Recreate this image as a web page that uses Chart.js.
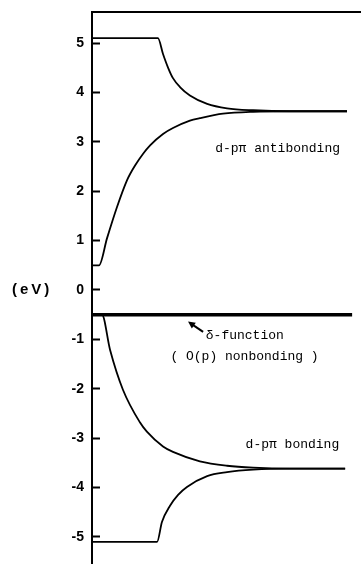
<!DOCTYPE html>
<html>
<head>
<meta charset="utf-8">
<script src="https://cdn.jsdelivr.net/npm/chart.js@4.4.1/dist/chart.umd.min.js"></script>
<style>
  html, body { margin: 0; padding: 0; background: #fff; }
  #wrap { position: relative; width: 361px; height: 564px; }
</style>
</head>
<body>
<div id="wrap"><canvas id="c"></canvas></div>
<script>
// Band energies (eV) along the reduced coordinate k (0..1)
const kAntiUpper = [0, 0.245, 0.264, 0.283, 0.301, 0.327, 0.364, 0.428, 0.502, 0.599, 0.736, 0.948];
const eAntiUpper = [5.1, 5.1, 4.78, 4.50, 4.29, 4.11, 3.94, 3.77, 3.68, 3.64, 3.62, 3.62];

const kAntiLower = [0, 0.026, 0.056, 0.093, 0.130, 0.160, 0.190, 0.216, 0.264, 0.301, 0.364, 0.401, 0.487, 0.599, 0.736, 0.948];
const eAntiLower = [0.5, 0.5, 1.05, 1.68, 2.22, 2.52, 2.76, 2.93, 3.16, 3.28, 3.43, 3.48, 3.57, 3.61, 3.62, 3.62];

const kNonbonding = [0, 0.967];
const eNonbonding = [-0.5, -0.5];

const kBondUpper = [0, 0.037, 0.067, 0.115, 0.178, 0.204, 0.264, 0.301, 0.401, 0.502, 0.599, 0.736, 0.941];
const eBondUpper = [-0.5, -0.5, -1.21, -2.02, -2.68, -2.87, -3.17, -3.28, -3.47, -3.56, -3.60, -3.62, -3.62];

const kBondLower = [0, 0.242, 0.260, 0.290, 0.320, 0.353, 0.428, 0.502, 0.599, 0.736, 0.941];
const eBondLower = [-5.1, -5.1, -4.70, -4.37, -4.15, -3.99, -3.77, -3.69, -3.64, -3.62, -3.62];

const yTicks = [5, 4, 3, 2, 1, 0, -1, -2, -3, -4, -5];
const yRange = [-5.55, 5.63];

function pts(ks, es) { return ks.map((k, i) => ({ x: k, y: es[i] })); }

function curve(ks, es, width) {
  return {
    data: pts(ks, es),
    borderColor: '#000',
    borderWidth: width,
    pointRadius: 0,
    fill: false,
    cubicInterpolationMode: 'monotone'
  };
}

// Text labels and the arrow, placed in data coordinates
const notes = [
  { text: 'd-p\u03c0 antibonding', x: 0.69, y: 2.86 },
  { text: 'd-p\u03c0 bonding', x: 0.745, y: -3.13 },
  { text: '\u03b4-function', x: 0.568, y: -0.93 },
  { text: '( O(p) nonbonding )', x: 0.567, y: -1.35 }
];
const arrow = { from: [0.413, -0.85], to: [0.357, -0.64] };

const annotate = {
  id: 'annotate',
  afterDatasetsDraw(chart) {
    const ctx = chart.ctx;
    const xs = chart.scales.x, ys = chart.scales.y;
    ctx.save();
    ctx.fillStyle = '#000';
    ctx.font = '13px "Liberation Mono", monospace';
    ctx.textAlign = 'center';
    ctx.textBaseline = 'middle';
    notes.forEach(n => ctx.fillText(n.text, xs.getPixelForValue(n.x), ys.getPixelForValue(n.y)));

    // arrow pointing at the delta-function level
    const x1 = xs.getPixelForValue(arrow.from[0]), y1 = ys.getPixelForValue(arrow.from[1]);
    const x2 = xs.getPixelForValue(arrow.to[0]), y2 = ys.getPixelForValue(arrow.to[1]);
    const ang = Math.atan2(y2 - y1, x2 - x1);
    ctx.strokeStyle = '#000';
    ctx.lineWidth = 2;
    ctx.beginPath();
    ctx.moveTo(x1, y1);
    ctx.lineTo(x2 - 4 * Math.cos(ang), y2 - 4 * Math.sin(ang));
    ctx.stroke();
    ctx.beginPath();
    ctx.moveTo(x2, y2);
    ctx.lineTo(x2 - 7 * Math.cos(ang) + 3.5 * Math.sin(ang), y2 - 7 * Math.sin(ang) - 3.5 * Math.cos(ang));
    ctx.lineTo(x2 - 7 * Math.cos(ang) - 3.5 * Math.sin(ang), y2 - 7 * Math.sin(ang) + 3.5 * Math.cos(ang));
    ctx.closePath();
    ctx.fill();

    // unit label beside the zero tick
    ctx.font = 'bold 15px "Liberation Sans", sans-serif';
    ctx.textAlign = 'left';
    if ('letterSpacing' in ctx) ctx.letterSpacing = '3px';
    ctx.fillText('(eV)', 12, ys.getPixelForValue(0));
    ctx.restore();
  }
};

new Chart(document.getElementById('c'), {
  type: 'line',
  data: {
    datasets: [
      curve(kAntiUpper, eAntiUpper, 1.8),
      curve(kAntiLower, eAntiLower, 1.8),
      curve(kNonbonding, eNonbonding, 3.5),
      curve(kBondUpper, eBondUpper, 1.8),
      curve(kBondLower, eBondLower, 1.8)
    ]
  },
  options: {
    responsive: true,
    maintainAspectRatio: false,
    animation: false,
    layout: { padding: { top: 12, left: 0, right: 0, bottom: 0 } },
    plugins: { legend: { display: false }, tooltip: { enabled: false } },
    scales: {
      x: {
        type: 'linear',
        position: 'top',
        min: 0,
        max: 1,
        ticks: { display: false },
        grid: { display: false, drawTicks: false },
        border: { display: true, color: '#000', width: 2 },
        afterFit(s) { s.height = 0; s.paddingLeft = 0; s.paddingRight = 0; }
      },
      y: {
        type: 'linear',
        min: yRange[0],
        max: yRange[1],
        afterBuildTicks(s) { s.ticks = yTicks.map(v => ({ value: v })); },
        afterFit(s) { s.width = 92; s.paddingTop = 0; s.paddingBottom = 0; },
        ticks: {
          color: '#000',
          padding: 16,
          font: { family: '"Liberation Sans", sans-serif', size: 14, weight: 'bold' },
          callback: v => String(v)
        },
        grid: {
          drawOnChartArea: false,
          drawTicks: true,
          tickLength: -8,
          tickWidth: 2,
          tickColor: '#000'
        },
        border: { display: true, color: '#000', width: 2 }
      }
    }
  },
  plugins: [annotate]
});
</script>
</body>
</html>
